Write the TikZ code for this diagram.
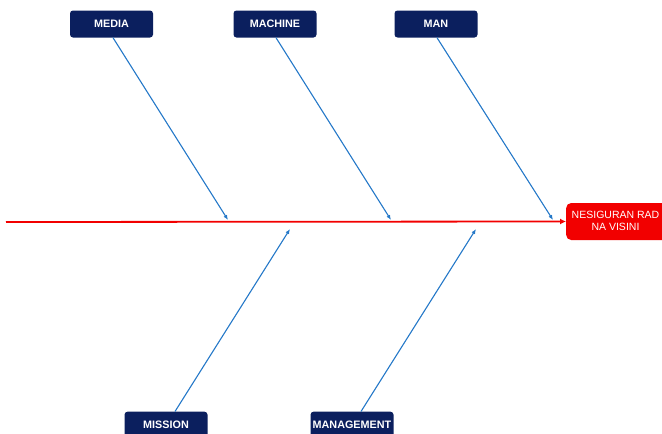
\documentclass[tikz,border=0pt]{standalone}
\usepackage{fontspec}
\setmainfont{Liberation Sans}
\usetikzlibrary{arrows.meta}
\definecolor{navy}{HTML}{0B1F5E}
\definecolor{bone}{HTML}{2478C8}
\definecolor{spine}{HTML}{F20000}
\tikzset{
  cat/.style={fill=navy, rounded corners=3pt, minimum width=83pt, minimum height=27pt, text=white, font=\bfseries\fontsize{10.8}{12}\selectfont, inner sep=0pt},
  bonearrow/.style={draw=bone, line width=1.1pt, -{Latex[length=5pt,width=4pt]}},
  spinearrow/.style={draw=spine, line width=1.8pt, -{Latex[length=6pt,width=6pt]}},
}
\begin{document}
\begin{tikzpicture}[x=1pt,y=-1pt]
\useasboundingbox (0,0) rectangle (662,434);
\clip (0,0) rectangle (662,434);
\node[cat] (media) at (111.5,24) {MEDIA};
\node[cat] (machine) at (275,24) {MACHINE};
\node[cat] (man) at (436,24) {MAN};
\node[cat, anchor=north] (mission) at (166,411.5) {MISSION};
\node[cat, anchor=north] (management) at (352,411.5) {MANAGEMENT};
\node[fill=spine, rounded corners=5pt, minimum width=102pt, minimum height=37pt, anchor=west, inner sep=0pt] (effect) at (566,221.5) {};
\node[text=white, align=center, font=\fontsize{10.5}{12.5}\selectfont] (effecttext) at (615.5,221) {NESIGURAN RAD\\NA VISINI};
\coordinate (tail) at (6,222);
\coordinate (pmedia) at (228,220);
\coordinate (pmachine) at (391,220);
\coordinate (pman) at (553,220);
\coordinate (pmission) at (290,229);
\coordinate (pmanagement) at (476,229);
\draw[spinearrow] (tail) -- (effect.west);
\draw[bonearrow] ([xshift=1.5pt]media.south) -- (pmedia);
\draw[bonearrow] ([xshift=1pt]machine.south) -- (pmachine);
\draw[bonearrow] ([xshift=1pt]man.south) -- (pman);
\draw[bonearrow] ([xshift=9pt]mission.north) -- (pmission);
\draw[bonearrow] ([xshift=9pt]management.north) -- (pmanagement);
\end{tikzpicture}
\end{document}
